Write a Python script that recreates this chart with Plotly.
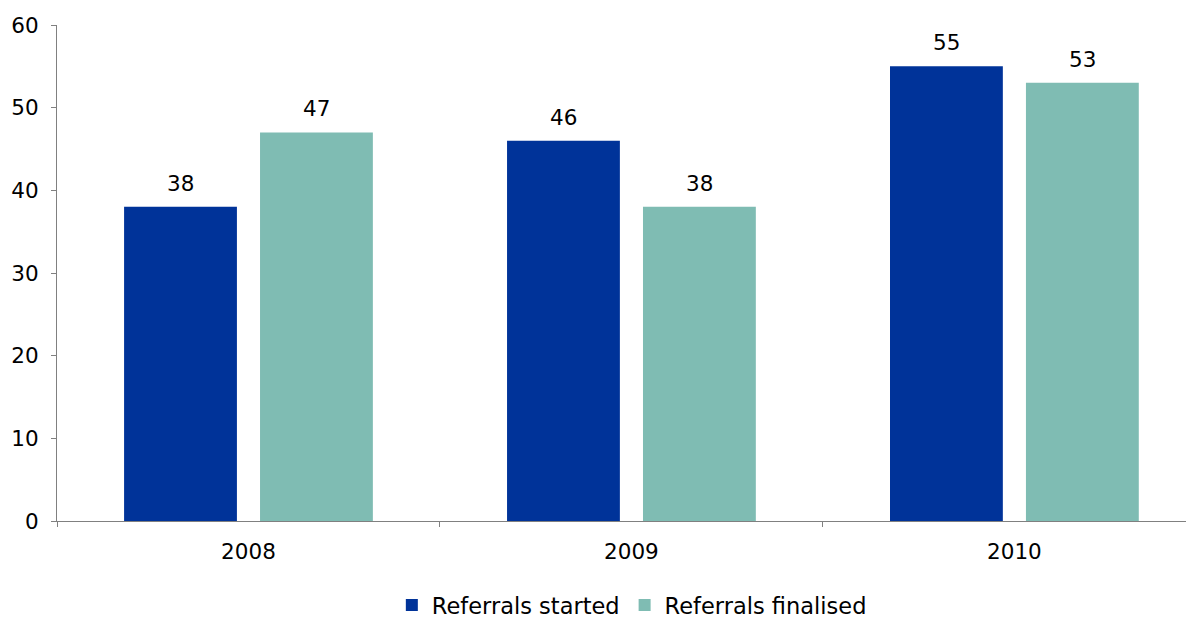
import plotly.graph_objects as go

years = ["2008", "2009", "2010"]
started = [38, 46, 55]
finalised = [47, 38, 53]

font = "DejaVu Sans, Verdana, sans-serif"
blue = "#003399"
teal = "#7FBCB3"
fs = 21.5

fig = go.Figure()
fig.add_trace(go.Bar(x=years, y=started, name="Referrals started",
                     marker=dict(color=blue, line=dict(width=0))))
fig.add_trace(go.Bar(x=years, y=finalised, name="Referrals finalised",
                     marker=dict(color=teal, line=dict(width=0))))

annotations = []
for vals, shift in ((started, -68), (finalised, 68)):
    for i, v in enumerate(vals):
        annotations.append(dict(x=i, y=v, xref="x", yref="y", text=str(v),
                                showarrow=False, xshift=shift, yshift=9,
                                yanchor="bottom", xanchor="center",
                                font=dict(family=font, size=fs, color="#000000")))

fig.update_layout(
    width=1186, height=609,
    margin=dict(l=49, r=0, t=17, b=96),
    paper_bgcolor="white", plot_bgcolor="white",
    barmode="group", bargap=0.29, bargroupgap=0.17,
    font=dict(family=font, size=fs, color="#000000"),
    showlegend=True,
    annotations=annotations,
    legend=dict(orientation="h", xref="container", yref="container",
                x=0.526, xanchor="center", y=0.019, yanchor="middle",
                font=dict(size=22.5), itemwidth=30, traceorder="normal"),
    xaxis=dict(type="category", range=[-0.5, 2.469], showline=True, linecolor="#808080",
               linewidth=1, ticks="outside", tickson="boundaries", ticklen=5,
               tickcolor="#808080", showgrid=False, zeroline=False, automargin=False,
               ticklabelstandoff=11, tickfont=dict(size=fs)),
    yaxis=dict(range=[0, 60], dtick=10, showline=True, linecolor="#808080", linewidth=1,
               ticks="outside", ticklen=5, tickcolor="#808080", showgrid=False,
               zeroline=False, automargin=False, ticklabelstandoff=8,
               tickfont=dict(size=fs)),
)

fig.write_html("out.html")
